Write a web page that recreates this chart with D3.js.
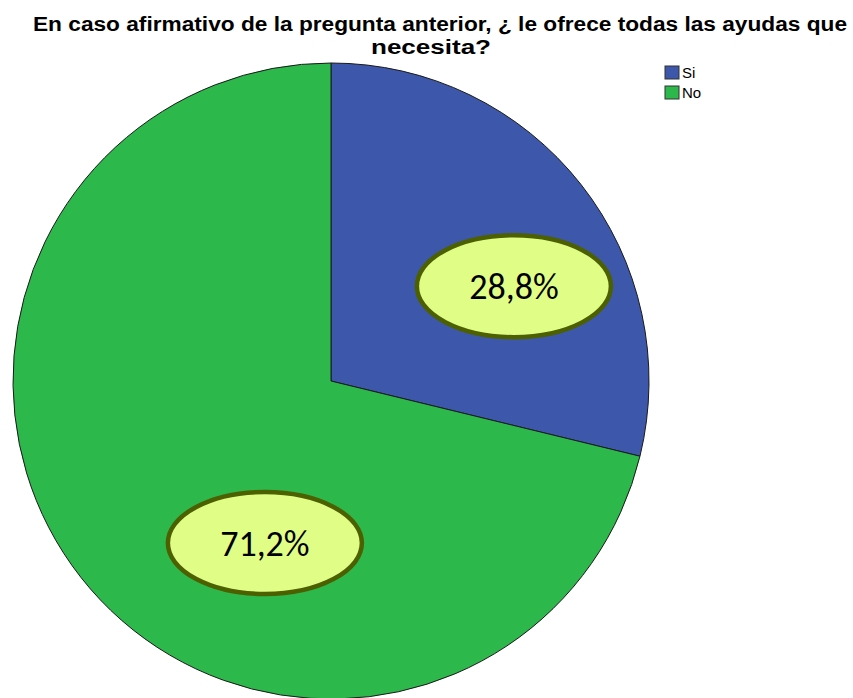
<!DOCTYPE html>
<html>
<head>
<meta charset="utf-8">
<script src="https://cdn.jsdelivr.net/npm/d3@7"></script>
<style>
  body { margin: 0; background: #fff; }
</style>
</head>
<body>
<div id="chart"></div>
<script>
const categories = ['Si', 'No'];
const values = [28.8, 71.2];
const labels = ['28,8%', '71,2%'];
const colors = ['#3d57aa', '#2db84b'];

const width = 853;
const height = 698;
const cx = 331;
const cy = 381;
const radius = 318;

// where the callout ellipses sit (angle in degrees from top, distance from centre)
const calloutPos = [[62.6, 206], [202.2, 175]];

const svg = d3.select('#chart')
    .append('svg')
    .attr('width', width)
    .attr('height', height)

svg.append('text')
    .attr('x', 440)
    .attr('y', 31)
    .attr('text-anchor', 'middle')
    .attr('textLength', 814)
    .attr('lengthAdjust', 'spacingAndGlyphs')
    .style('font-family', 'Liberation Sans Narrow, Arial Narrow, Liberation Sans, Arial, sans-serif')
    .style('font-weight', 'bold')
    .style('font-size', '20px')
    .text('En caso afirmativo de la pregunta anterior, ¿ le ofrece todas las ayudas que')

svg.append('text')
    .attr('x', 431)
    .attr('y', 54)
    .attr('text-anchor', 'middle')
    .attr('textLength', 120)
    .attr('lengthAdjust', 'spacingAndGlyphs')
    .style('font-family', 'Liberation Sans Narrow, Arial Narrow, Liberation Sans, Arial, sans-serif')
    .style('font-weight', 'bold')
    .style('font-size', '20px')
    .text('necesita?')

const pie = d3.pie().sort(null).value(d => d)
const arc = d3.arc().innerRadius(0).outerRadius(radius)

const g = svg.append('g')
    .attr('transform', `translate(${cx}, ${cy})`)

g.selectAll('path')
    .data(pie(values))
    .enter()
    .append('path')
    .attr('d', arc)
    .attr('fill', (d, i) => colors[i])
    .attr('stroke', '#1a1a1a')
    .attr('stroke-width', 1)

const callouts = g.selectAll('g.callout')
    .data(labels)
    .enter()
    .append('g')
    .attr('class', 'callout')
    .attr('transform', (d, i) => {
        const a = calloutPos[i][0] * Math.PI / 180
        const r = calloutPos[i][1]
        return `translate(${r * Math.sin(a)}, ${-r * Math.cos(a)})`
    })

callouts.append('ellipse')
    .attr('rx', 97)
    .attr('ry', 51)
    .attr('fill', '#e0fd86')
    .attr('stroke', '#4c6000')
    .attr('stroke-width', 4.5)

callouts.append('text')
    .attr('text-anchor', 'middle')
    .attr('dy', 13)
    .style('font-family', 'Carlito, Lato, Open Sans, sans-serif')
    .style('font-size', '36px')
    .text(d => d)

const legend = svg.append('g')
    .attr('transform', 'translate(665, 66)')

const item = legend.selectAll('g')
    .data(categories)
    .enter()
    .append('g')
    .attr('transform', (d, i) => `translate(0, ${i * 20})`)

item.append('rect')
    .attr('width', 14)
    .attr('height', 13)
    .attr('fill', (d, i) => colors[i])
    .attr('stroke', '#333')
    .attr('stroke-width', 1)

item.append('text')
    .attr('x', 17)
    .attr('y', 12)
    .style('font-family', 'Liberation Sans Narrow, Arial Narrow, Liberation Sans, Arial, sans-serif')
    .style('font-size', '15px')
    .text(d => d)
</script>
</body>
</html>
